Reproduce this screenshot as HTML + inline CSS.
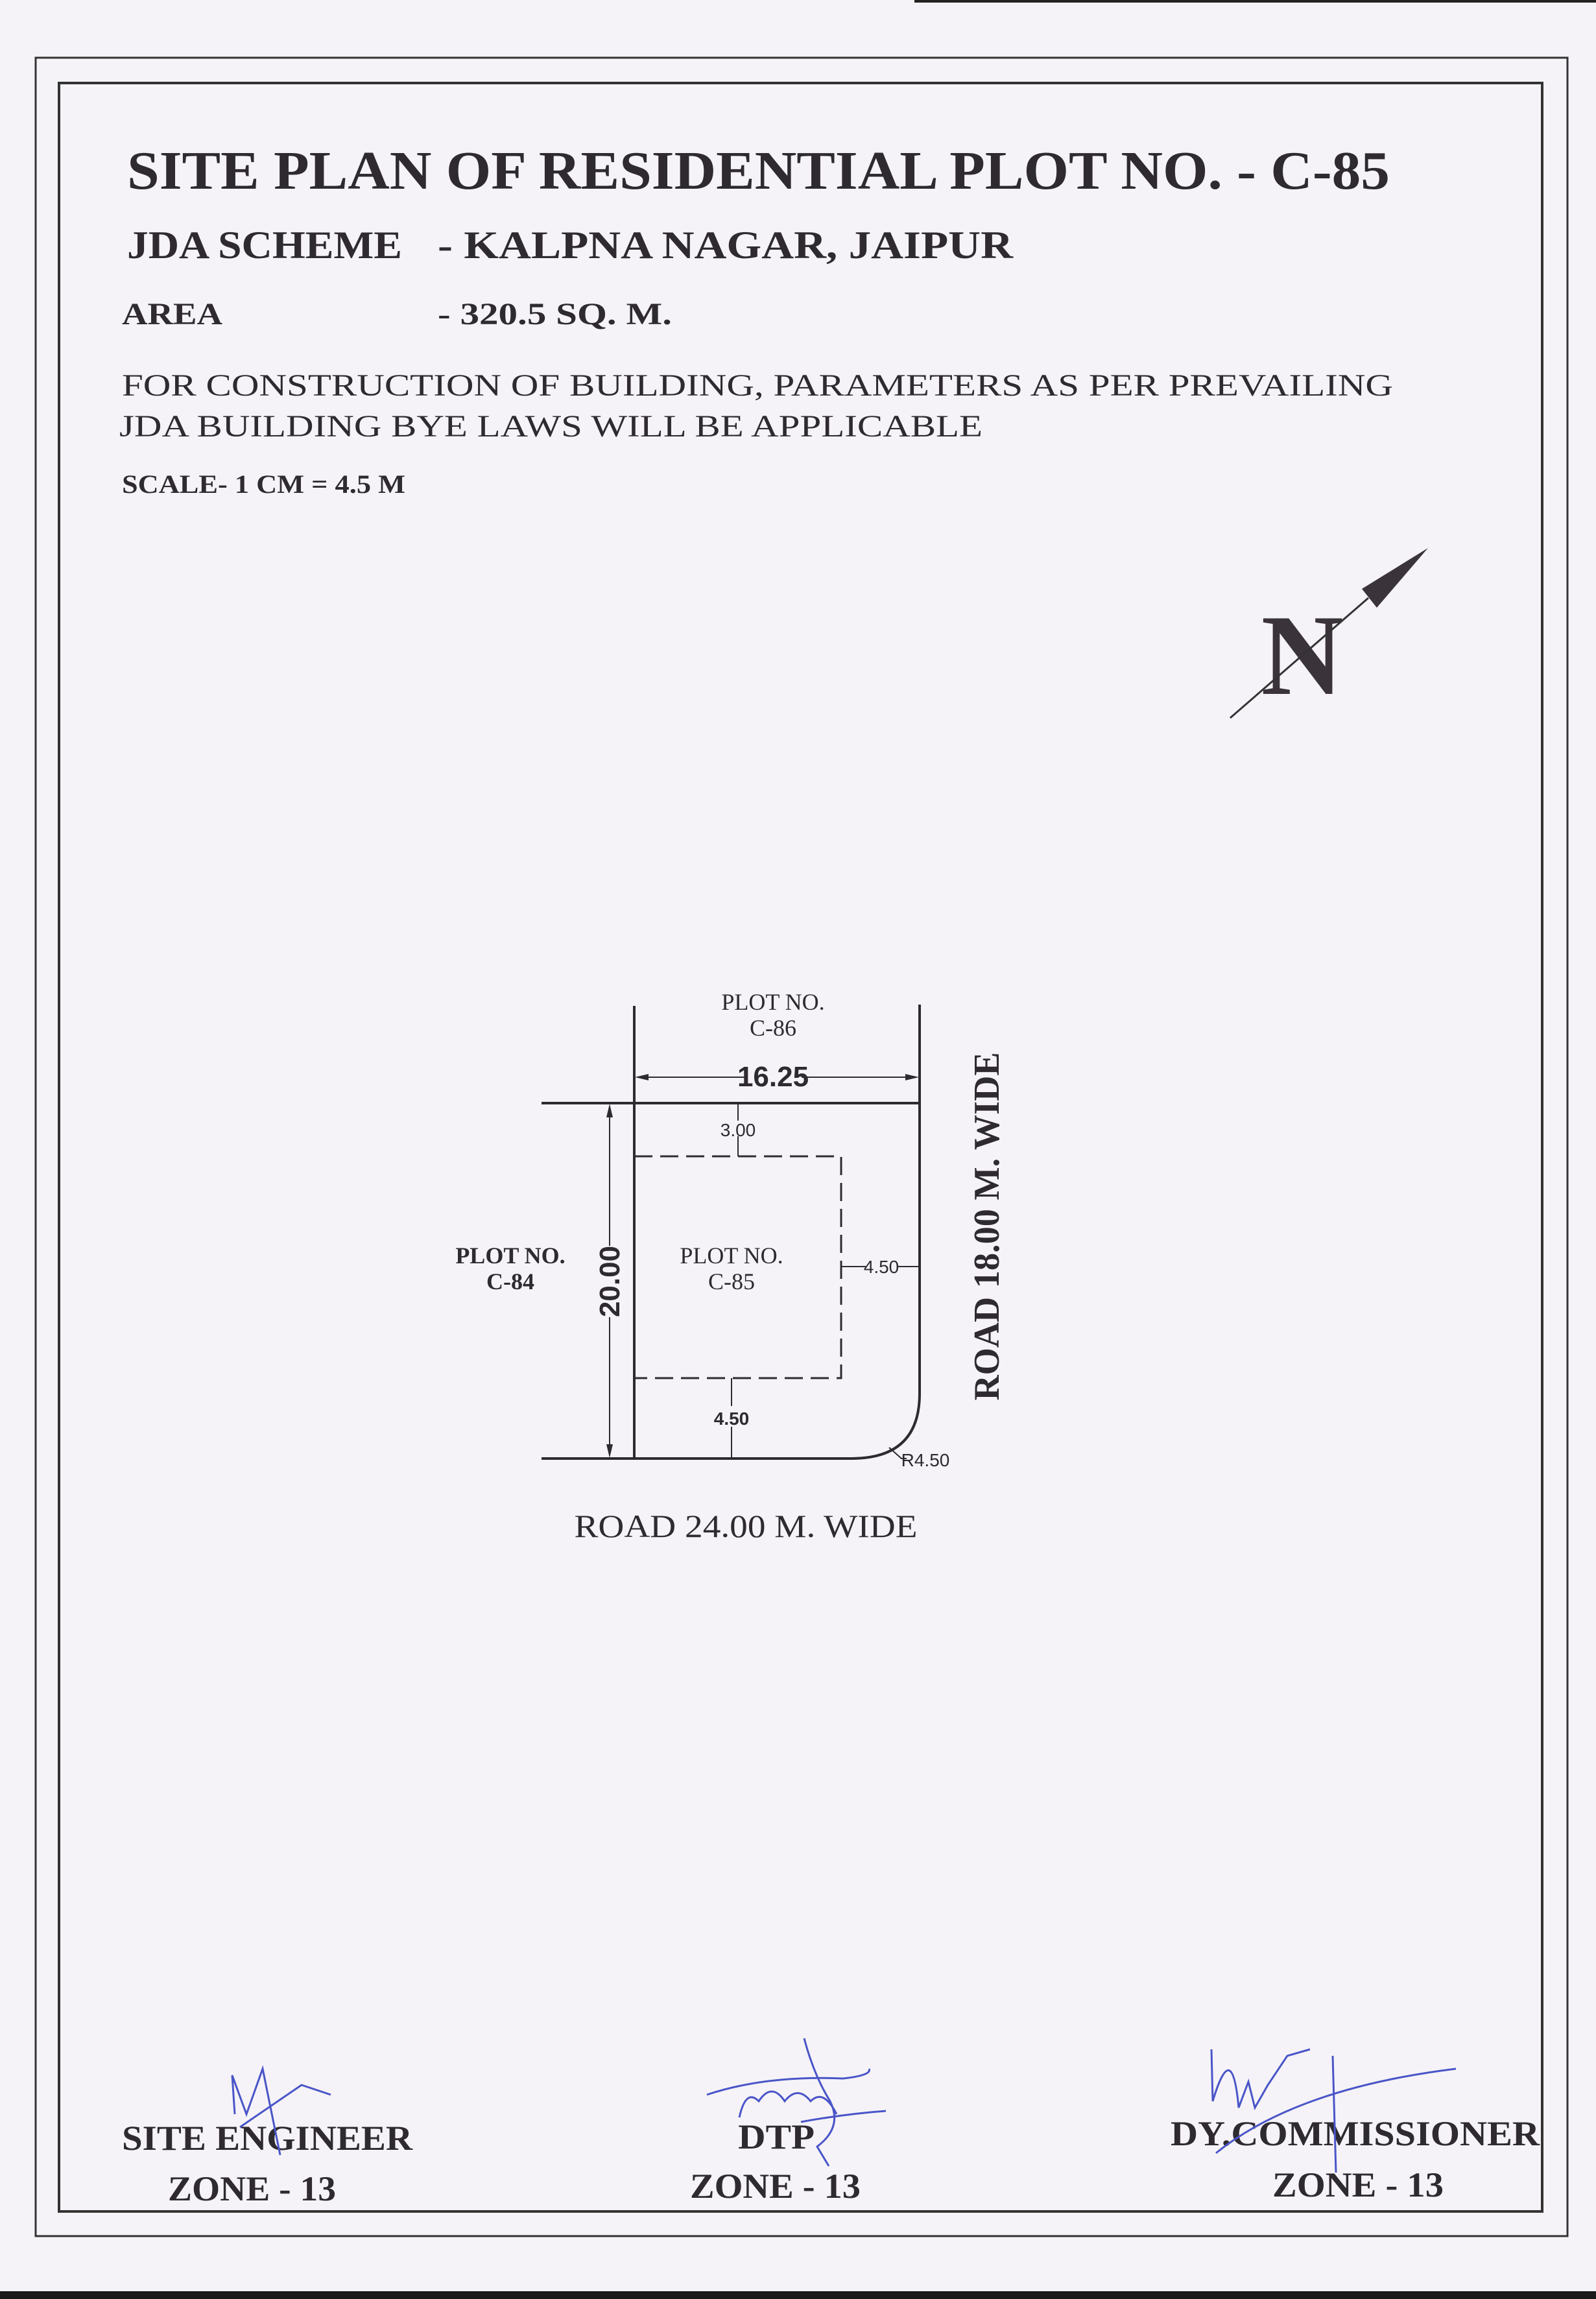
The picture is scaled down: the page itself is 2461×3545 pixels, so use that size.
<!DOCTYPE html>
<html><head><meta charset="utf-8"><style>
html,body{margin:0;padding:0;background:#f5f3f7;}
svg{display:block;}
</style></head><body>
<svg width="2461" height="3545" viewBox="0 0 2461 3545" xmlns="http://www.w3.org/2000/svg">
<rect width="2461" height="3545" fill="#f5f3f7"/>
<rect x="1410" y="0" width="1051" height="4" fill="#222"/>
<rect x="0" y="3533" width="2461" height="12" fill="#1a1a1a"/>
<rect x="55" y="89" width="2362" height="3359" fill="none" stroke="#333" stroke-width="3"/>
<rect x="91" y="128" width="2287" height="3282" fill="none" stroke="#333" stroke-width="4"/>

<g font-family="Liberation Serif, serif" fill="#2e2a30">
<text x="196" y="291" font-size="84" font-weight="bold" textLength="1947" lengthAdjust="spacingAndGlyphs">SITE  PLAN OF RESIDENTIAL PLOT NO.  - C-85</text>
<text x="196" y="398" font-size="60" font-weight="bold" textLength="424" lengthAdjust="spacingAndGlyphs">JDA SCHEME</text>
<text x="675" y="398" font-size="60" font-weight="bold" textLength="887" lengthAdjust="spacingAndGlyphs">- KALPNA  NAGAR, JAIPUR</text>
<text x="188" y="500" font-size="48" font-weight="bold" textLength="155" lengthAdjust="spacingAndGlyphs">AREA</text>
<text x="675" y="500" font-size="48" font-weight="bold" textLength="361" lengthAdjust="spacingAndGlyphs">-  320.5 SQ. M.</text>
<text x="188" y="610" font-size="48" textLength="1960" lengthAdjust="spacingAndGlyphs">FOR CONSTRUCTION OF BUILDING, PARAMETERS AS PER PREVAILING</text>
<text x="184" y="673" font-size="48" textLength="1331" lengthAdjust="spacingAndGlyphs">JDA BUILDING BYE LAWS WILL BE APPLICABLE</text>
<text x="188" y="760" font-size="40" font-weight="bold" textLength="437" lengthAdjust="spacingAndGlyphs">SCALE- 1 CM = 4.5 M</text>
</g>

<text x="2008" y="1070" font-family="Liberation Serif, serif" font-size="178" font-weight="bold" fill="#3a333a" text-anchor="middle" textLength="127" lengthAdjust="spacingAndGlyphs">N</text>
<line x1="1897" y1="1107" x2="2110" y2="922" stroke="#333" stroke-width="3"/>
<polygon points="2202,845 2100,908 2123,937" fill="#3a333a"/>

<g stroke="#2e2a30" fill="none">
<line x1="978" y1="1551" x2="978" y2="2249" stroke-width="4"/>
<path d="M1418 1549 L1418 2149 Q1418 2249 1313 2249 L835 2249" stroke-width="4"/>
<line x1="835" y1="1701" x2="1418" y2="1701" stroke-width="4"/>
<path d="M978 1783 L1297 1783 L1297 2125 L978 2125" stroke-width="3" stroke-dasharray="28,12"/>
<line x1="984" y1="1661" x2="1412" y2="1661" stroke-width="2"/>
<line x1="940" y1="1707" x2="940" y2="2243" stroke-width="2"/>
<line x1="1138" y1="1701" x2="1138" y2="1728" stroke-width="2"/>
<line x1="1138" y1="1752" x2="1138" y2="1783" stroke-width="2"/>
<line x1="1128" y1="2125" x2="1128" y2="2168" stroke-width="2"/>
<line x1="1128" y1="2200" x2="1128" y2="2249" stroke-width="2"/>
<line x1="1297" y1="1953" x2="1335" y2="1953" stroke-width="2"/>
<line x1="1383" y1="1953" x2="1418" y2="1953" stroke-width="2"/>
<polyline points="1371,2232 1390,2249 1398,2249" stroke-width="2"/>
</g>
<g fill="#2e2a30">
<polygon points="979,1661 1000,1656 1000,1666"/>
<polygon points="1417,1661 1396,1656 1396,1666"/>
<polygon points="940,1702 935,1723 945,1723"/>
<polygon points="940,2248 935,2227 945,2227"/>
</g>
<g font-family="Liberation Sans, sans-serif" fill="#2e2a30" text-anchor="middle">
<rect x="1148" y="1638" width="88" height="40" fill="#f5f3f7"/>
<text x="1192" y="1675" font-size="44" font-weight="bold">16.25</text>
<text x="1138" y="1752" font-size="28">3.00</text>
<text x="1128" y="2197" font-size="28" font-weight="bold">4.50</text>
<text x="1359" y="1963" font-size="28">4.50</text>
<text x="1427" y="2261" font-size="28">R4.50</text>
<g transform="translate(955,1976) rotate(-90)"><rect x="-55" y="-38" width="110" height="44" fill="#f5f3f7"/><text x="0" y="0" font-size="44" font-weight="bold">20.00</text></g>
</g>
<g font-family="Liberation Serif, serif" fill="#2e2a30" text-anchor="middle">
<text x="1192" y="1557" font-size="36">PLOT NO.</text>
<text x="1192" y="1597" font-size="36">C-86</text>
<text x="787" y="1948" font-size="36" font-weight="bold">PLOT NO.</text>
<text x="787" y="1988" font-size="36" font-weight="bold">C-84</text>
<text x="1128" y="1948" font-size="36">PLOT NO.</text>
<text x="1128" y="1988" font-size="36">C-85</text>
<text x="1150" y="2370" font-size="50" textLength="529" lengthAdjust="spacingAndGlyphs">ROAD 24.00 M. WIDE</text>
<text transform="translate(1540,1891) rotate(-90)" x="0" y="0" font-size="56" font-weight="bold" textLength="537" lengthAdjust="spacingAndGlyphs">ROAD 18.00 M. WIDE</text>
</g>

<g font-family="Liberation Serif, serif" fill="#2e2a30" font-weight="bold" font-size="54">
<text x="188" y="3315" textLength="448" lengthAdjust="spacingAndGlyphs">SITE ENGINEER</text>
<text x="259" y="3393" textLength="259" lengthAdjust="spacingAndGlyphs">ZONE - 13</text>
<text x="1138" y="3313" textLength="118" lengthAdjust="spacingAndGlyphs">DTP</text>
<text x="1064" y="3389" textLength="263" lengthAdjust="spacingAndGlyphs">ZONE - 13</text>
<text x="1805" y="3308" textLength="569" lengthAdjust="spacingAndGlyphs">DY.COMMISSIONER</text>
<text x="1962" y="3387" textLength="264" lengthAdjust="spacingAndGlyphs">ZONE - 13</text>
</g>
<g stroke="#4a55c8" fill="none" stroke-width="3">
<path d="M362 3260 L358 3200 L380 3260 L405 3190 L432 3323"/>
<path d="M370 3280 L465 3215 L510 3230"/>
<path d="M1090 3230 Q1180 3200 1300 3205 Q1345 3200 1340 3190"/>
<path d="M1140 3265 Q1150 3220 1170 3240 Q1190 3210 1210 3240 Q1230 3215 1250 3240 Q1270 3220 1290 3260"/>
<path d="M1240 3143 Q1255 3200 1280 3240 Q1300 3280 1260 3310 L1278 3340"/>
<path d="M1235 3272 Q1300 3260 1366 3255"/>
<path d="M1868 3160 L1870 3240 Q1900 3140 1910 3250 L1925 3210 L1935 3250 L1955 3215 L1985 3170 L2020 3160"/>
<path d="M1875 3320 Q2000 3220 2245 3190"/>
<line x1="2055" y1="3170" x2="2060" y2="3350"/>
</g>
</svg>
</body></html>
